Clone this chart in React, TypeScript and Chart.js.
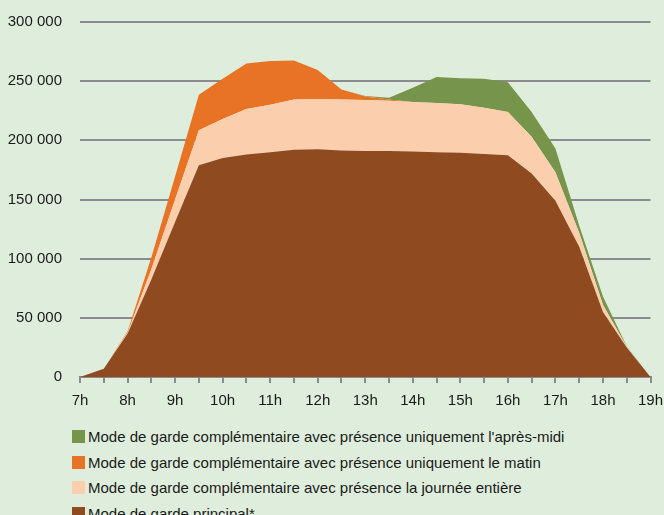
import React, { useEffect, useRef } from "react";
import { Chart, registerables } from "chart.js";

Chart.register(...registerables);

const timeLabels = [
  "7h", "7h30", "8h", "8h30", "9h", "9h30", "10h", "10h30", "11h", "11h30",
  "12h", "12h30", "13h", "13h30", "14h", "14h30", "15h", "15h30", "16h", "16h30",
  "17h", "17h30", "18h", "18h30", "19h",
];

const principal = [
  0, 7000, 36500, 82500, 131000, 179000, 185000, 188000, 190000, 192000,
  192500, 191500, 191000, 191000, 190500, 190000, 189500, 188500, 187500, 172000,
  149000, 110000, 55000, 25000, 0,
];
const journeeEntiere = [
  0, 0, 1000, 8500, 19000, 29500, 33000, 38500, 40000, 42500,
  42500, 43000, 43000, 42500, 42000, 41500, 41000, 39000, 36500, 31000,
  24000, 12000, 6000, 500, 0,
];
const matin = [
  0, 0, 1000, 10000, 19500, 30000, 34000, 38500, 37000, 33000,
  24500, 8500, 3000, 1000, 0, 0, 0, 0, 0, 0,
  0, 0, 0, 0, 0,
];
const apresMidi = [
  0, 0, 0, 0, 0, 0, 0, 0, 0, 0,
  0, 0, 500, 1500, 12000, 22000, 22000, 24500, 25000, 21000,
  20000, 6000, 7000, 500, 0,
];

const yTicks = [0, 50000, 100000, 150000, 200000, 250000, 300000];

const seriesNames = [
  "Mode de garde principal*",
  "Mode de garde complémentaire avec présence la journée entière",
  "Mode de garde complémentaire avec présence uniquement le matin",
  "Mode de garde complémentaire avec présence uniquement l'après-midi",
];
const seriesColors = ["#8f4a20", "#fbcfae", "#e97324", "#76954a"];

const FONT = "'Liberation Sans', Arial, sans-serif";
const GRID = "#8a8b8f";
const BG = "#dfeedc";

function fmt(v: number): string {
  const s = String(Math.round(v));
  return s.replace(/\B(?=(\d{3})+(?!\d))/g, " ");
}

export default function App() {
  const ref = useRef<HTMLCanvasElement | null>(null);

  useEffect(() => {
    document.body.style.margin = "0";
    document.body.style.background = BG;
    const canvas = ref.current;
    if (!canvas) return;
    const seriesData = [principal, journeeEntiere, matin, apresMidi];
    const chart = new Chart(canvas, {
      type: "line",
      data: {
        labels: timeLabels,
        datasets: seriesData.map((d, i) => ({
          label: seriesNames[i],
          data: d,
          backgroundColor: seriesColors[i],
          borderColor: seriesColors[i],
          borderWidth: 0,
          pointRadius: 0,
          fill: i === 0 ? "origin" : "-1",
          tension: 0,
        })),
      },
      options: {
        responsive: false,
        animation: false,
        layout: { padding: { left: 8, right: 13.5, top: 22, bottom: 0 } },
        plugins: {
          legend: { display: false },
          tooltip: { enabled: false },
        },
        scales: {
          x: {
            type: "category",
            offset: false,
            afterFit: (axis: any) => {
              axis.paddingLeft = 0;
              axis.paddingRight = 0;
            },
            grid: {
              display: true,
              drawOnChartArea: false,
              drawTicks: true,
              tickLength: 6,
              color: GRID,
              lineWidth: 2,
            },
            border: { display: true, color: GRID, width: 2 },
            ticks: {
              autoSkip: false,
              maxRotation: 0,
              minRotation: 0,
              padding: 9,
              color: "#1a1a1a",
              font: { family: FONT, size: 15 },
              callback: (_v: any, idx: number) => (idx % 2 === 0 ? timeLabels[idx] : ""),
            },
          },
          y: {
            stacked: true,
            min: yTicks[0],
            max: yTicks[yTicks.length - 1],
            afterBuildTicks: (axis: any) => {
              axis.ticks = yTicks.map((v) => ({ value: v }));
            },
            afterFit: (axis: any) => {
              axis.width = 72;
              axis.paddingTop = 0;
              axis.paddingBottom = 0;
            },
            grid: {
              display: true,
              drawTicks: false,
              color: GRID,
              lineWidth: 2,
            },
            border: { display: false },
            ticks: {
              padding: 18,
              color: "#1a1a1a",
              font: { family: FONT, size: 15 },
              callback: (v: any) => fmt(Number(v)),
            },
          },
        },
      },
    });
    return () => chart.destroy();
  }, []);

  const legendOrder = [3, 2, 1, 0];

  return (
    <div style={{ width: 664, height: 515, overflow: "hidden", background: BG, position: "relative" }}>
      <canvas ref={ref} width={664} height={419} style={{ display: "block" }} />
      <div style={{ position: "absolute", left: 72, top: 424, fontFamily: FONT, fontSize: 15, color: "#1a1a1a" }}>
        {legendOrder.map((i) => (
          <div key={i} style={{ display: "flex", alignItems: "center", height: 25.5, whiteSpace: "nowrap" }}>
            <span style={{ display: "inline-block", width: 13, height: 13, background: seriesColors[i], marginRight: 3 }} />
            <span>{seriesNames[i]}</span>
          </div>
        ))}
      </div>
    </div>
  );
}
